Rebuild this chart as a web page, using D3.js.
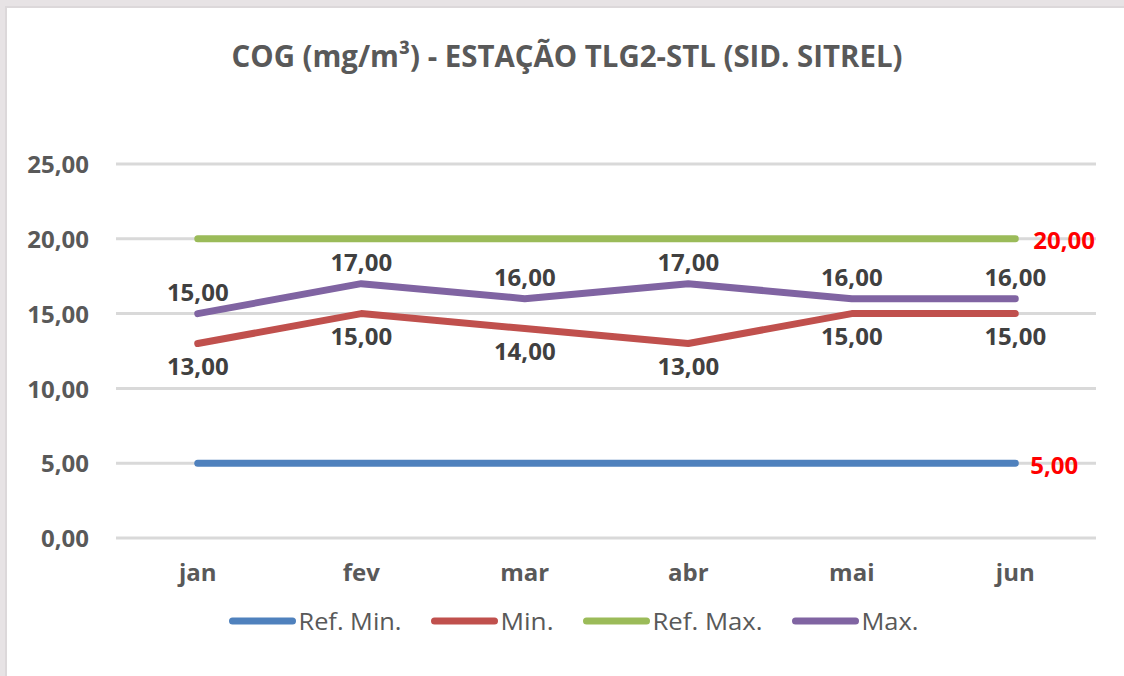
<!DOCTYPE html>
<html>
<head>
<meta charset="utf-8">
<script src="https://cdn.jsdelivr.net/npm/d3@7"></script>
<style>
  html, body { margin: 0; padding: 0; background: #ffffff; }
  svg { display: block; }
  text { font-family: "Open Sans", "Noto Sans", sans-serif; }
</style>
</head>
<body>
<svg id="chart" width="1124" height="676"></svg>
<script>
// Monthly COG readings, station TLG2-STL
const months = ["jan", "fev", "mar", "abr", "mai", "jun"];
const refMin = [5, 5, 5, 5, 5, 5];
const minVals = [13, 15, 14, 13, 15, 15];
const refMax = [20, 20, 20, 20, 20, 20];
const maxVals = [15, 17, 16, 17, 16, 16];
const yTicks = [0, 5, 10, 15, 20, 25];

const seriesNames = ["Ref. Min.", "Min.", "Ref. Max.", "Max."];
const seriesColors = ["#4f81bd", "#c0504d", "#9bbb59", "#8064a2"];
const titleText = "COG (mg/m³) - ESTAÇÃO TLG2-STL (SID. SITREL)";

const fmt = v => d3.format(".2f")(v).replace(".", ",");

const svg = d3.select("#chart");
const W = 1124, H = 676;

// Sheet frame
svg.append("rect").attr("width", W).attr("height", H).attr("fill", "#e7e3e5");
svg.append("rect").attr("x", 5).attr("y", 6).attr("width", W - 5).attr("height", H - 6).attr("fill", "#dcd8da");
svg.append("rect").attr("x", 7).attr("y", 8).attr("width", W - 7).attr("height", H - 8).attr("fill", "#ffffff");

const plot = { left: 116, right: 1097, top: 164, bottom: 538 };

const x = d3.scaleBand().domain(months).range([plot.left, plot.right]).padding(0);
const cx = m => x(m) + x.bandwidth() / 2;
const y = d3.scaleLinear().domain([0, 25]).range([plot.bottom, plot.top]);

// Title
svg.append("text")
  .attr("x", 567).attr("y", 67)
  .attr("text-anchor", "middle")
  .attr("font-size", 31).attr("font-weight", 700)
  .attr("fill", "#595959")
  .attr("textLength", 671).attr("lengthAdjust", "spacingAndGlyphs")
  .text(titleText);

// Gridlines
svg.append("g")
  .selectAll("line").data(yTicks).join("line")
  .attr("x1", plot.left).attr("x2", plot.right - 1)
  .attr("y1", d => y(d)).attr("y2", d => y(d))
  .attr("stroke", "#d9d9d9").attr("stroke-width", 3);

// Y axis labels
const yAxis = d3.axisLeft(y).tickValues(yTicks).tickFormat(fmt).tickSize(0).tickPadding(27);
const gy = svg.append("g").attr("transform", `translate(${plot.left},0)`).call(yAxis);
gy.select(".domain").remove();
gy.selectAll("text")
  .attr("font-family", "Open Sans, sans-serif")
  .attr("font-size", 24).attr("font-weight", 700)
  .attr("fill", "#595959").attr("dy", "0.36em");

// X axis labels
const xAxis = d3.axisBottom(x).tickSize(0).tickPadding(26);
const gx = svg.append("g").attr("transform", `translate(0,${plot.bottom})`).call(xAxis);
gx.select(".domain").remove();
gx.selectAll("text")
  .attr("font-family", "Open Sans, sans-serif")
  .attr("font-size", 24).attr("font-weight", 700)
  .attr("fill", "#595959");

// Series lines
const allSeries = [refMin, minVals, refMax, maxVals];
const line = d3.line().x((d, i) => cx(months[i])).y(d => y(d));
svg.append("g")
  .selectAll("path").data(allSeries).join("path")
  .attr("d", d => line(d))
  .attr("fill", "none")
  .attr("stroke", (d, i) => seriesColors[i])
  .attr("stroke-width", 7)
  .attr("stroke-linecap", "round")
  .attr("stroke-linejoin", "round");

// Value labels: Max above the line, Min below
const labelStyle = sel => sel
  .attr("text-anchor", "middle")
  .attr("font-size", 24).attr("font-weight", 700)
  .attr("fill", "#404040")
  .attr("dy", "0.36em");

svg.append("g").selectAll("text").data(maxVals).join("text")
  .attr("x", (d, i) => cx(months[i]))
  .attr("y", d => y(d) - 21)
  .text(d => fmt(d))
  .call(labelStyle);

svg.append("g").selectAll("text").data(minVals).join("text")
  .attr("x", (d, i) => cx(months[i]))
  .attr("y", d => y(d) + 23)
  .text(d => fmt(d))
  .call(labelStyle);

// Reference values at the line ends
const last = months.length - 1;
[[refMax, 18], [refMin, 15]].forEach(([s, dx]) => {
  svg.append("text")
    .attr("x", cx(months[last]) + dx)
    .attr("y", y(s[last]) + 2)
    .attr("dy", "0.36em")
    .attr("font-size", 24).attr("font-weight", 700)
    .attr("fill", "#ff0000")
    .text(fmt(s[last]));
});

// Legend
const legend = svg.append("g");
const swatchW = 66, textGap = 3, itemGap = 30, legendY = 621;
const legendTextLen = [103, 53, 110, 57];
let items = seriesNames.map((name, i) => ({ name, color: seriesColors[i], tw: legendTextLen[i] }));
const totalW = d3.sum(items, d => swatchW + textGap + d.tw) + itemGap * (items.length - 1);
let cursor = 574 - totalW / 2;
items.forEach(it => {
  const g = legend.append("g").attr("transform", `translate(${cursor},${legendY})`);
  g.append("line")
    .attr("x1", 3).attr("x2", swatchW - 3)
    .attr("stroke", it.color).attr("stroke-width", 7).attr("stroke-linecap", "round");
  g.append("text")
    .attr("x", swatchW + textGap).attr("dy", "0.36em")
    .attr("font-size", 24).attr("fill", "#595959")
    .attr("textLength", it.tw).attr("lengthAdjust", "spacingAndGlyphs")
    .text(it.name);
  cursor += swatchW + textGap + it.tw + itemGap;
});
</script>
</body>
</html>
